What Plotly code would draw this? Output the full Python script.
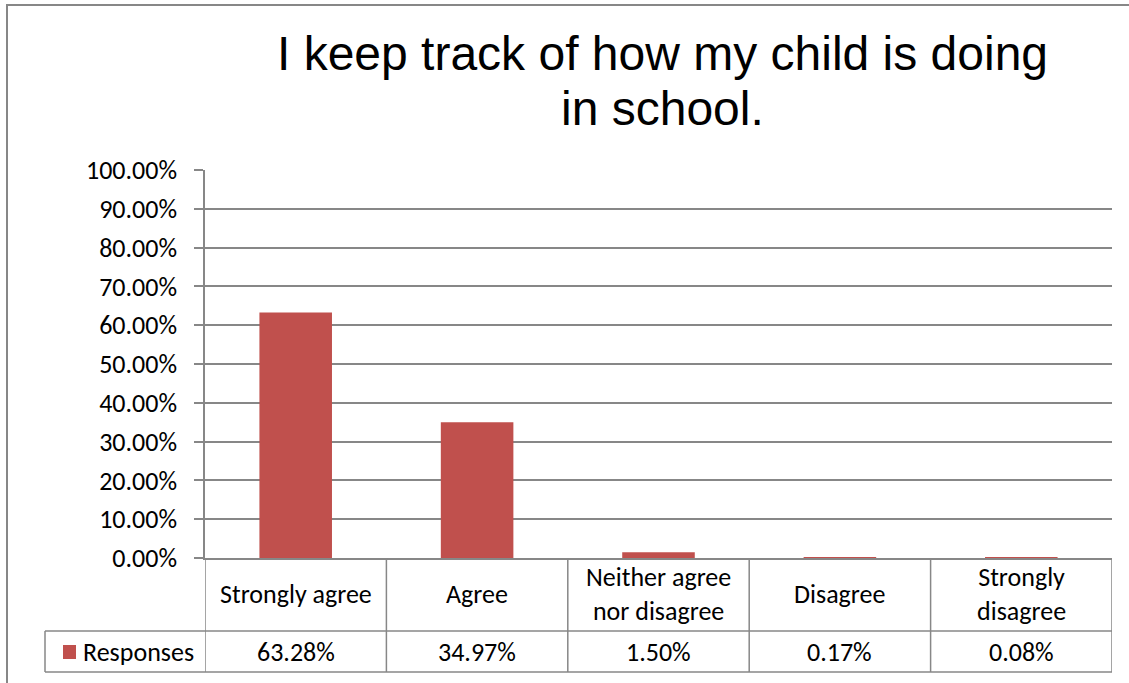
import plotly.graph_objects as go

# ---- data ----
categories = ["Strongly agree", "Agree", "Neither agree nor disagree", "Disagree", "Strongly disagree"]
category_labels = ["Strongly agree", "Agree", "Neither agree<br>nor disagree", "Disagree", "Strongly<br>disagree"]
responses = [63.28, 34.97, 1.50, 0.17, 0.08]
series_name = "Responses"
title_lines = ["I keep track of how my child is doing", "in school."]
y_ticks = [0, 10, 20, 30, 40, 50, 60, 70, 80, 90, 100]
y_tick_labels = [f"{t:.2f}%" for t in y_ticks]

# ---- layout helpers (pixel box of plot area) ----
W, H = 1129, 683
L, R, T, B = 205, 1112, 170, 558


def px(x):
    return (x - L) / (R - L)


def py(y):
    return (B - y) / (B - T)


GRAY = "#878787"
BAR = "#C0504D"
TXT_FONT = "Calibri, Carlito, Lato, sans-serif"
TXT_SIZE = 26

fig = go.Figure()
fig.add_trace(go.Bar(
    x=list(range(len(categories))), y=responses, name=series_name,
    marker=dict(color=BAR, line=dict(width=0)), width=0.4,
    hovertext=categories,
))

shapes = []
# outer chart border (cropped on right/bottom)
shapes.append(dict(type="rect", xref="paper", yref="paper",
                   x0=px(7), x1=px(1160), y0=py(720), y1=py(5),
                   line=dict(color=GRAY, width=2), layer="below"))
# data table: vertical column lines
for k in range(len(categories) + 1):
    shapes.append(dict(type="line", xref="x", yref="paper",
                       x0=k - 0.5, x1=k - 0.5, y0=py(558), y1=py(672),
                       line=dict(color=GRAY, width=1.5)))
# horizontal lines
for yy in (631, 672):
    shapes.append(dict(type="line", xref="paper", yref="paper",
                       x0=px(45), x1=px(1112), y0=py(yy), y1=py(yy),
                       line=dict(color=GRAY, width=1.5)))
shapes.append(dict(type="line", xref="paper", yref="paper",
                   x0=px(45), x1=px(45), y0=py(631), y1=py(672),
                   line=dict(color=GRAY, width=1.5)))
# legend key
shapes.append(dict(type="rect", xref="paper", yref="paper",
                   x0=px(63), x1=px(76), y0=py(659), y1=py(645),
                   fillcolor=BAR, line=dict(width=0)))

annotations = []
title_y = [54, 109]
for line, yy in zip(title_lines, title_y):
    annotations.append(dict(text=line, xref="paper", yref="paper",
                            x=px(662), y=py(yy), xanchor="center", yanchor="middle",
                            showarrow=False,
                            font=dict(family="Liberation Sans, Arial", size=48, color="#000000")))
for i, lab in enumerate(category_labels):
    annotations.append(dict(text=lab, xref="x", yref="paper", x=i, y=py(594),
                            xanchor="center", yanchor="middle", showarrow=False,
                            font=dict(family=TXT_FONT, size=TXT_SIZE, color="#000000")))
for i, v in enumerate(responses):
    annotations.append(dict(text=f"{v:.2f}%", xref="x", yref="paper", x=i, y=py(652),
                            xanchor="center", yanchor="middle", showarrow=False,
                            font=dict(family=TXT_FONT, size=TXT_SIZE, color="#000000")))
annotations.append(dict(text=series_name, xref="paper", yref="paper", x=px(81), y=py(652),
                        xanchor="left", yanchor="middle", showarrow=False,
                        font=dict(family=TXT_FONT, size=TXT_SIZE, color="#000000")))

fig.update_layout(
    width=W, height=H,
    margin=dict(l=L, r=W - R, t=T, b=H - B, pad=0),
    paper_bgcolor="white", plot_bgcolor="white",
    showlegend=False,
    shapes=shapes, annotations=annotations,
    font=dict(family=TXT_FONT, size=TXT_SIZE, color="#000000"),
    xaxis=dict(range=[-0.5, len(categories) - 0.5], showticklabels=False, ticks="",
               showgrid=False, zeroline=False, showline=True, linecolor=GRAY, linewidth=1.5,
               fixedrange=True),
    yaxis=dict(range=[0, 100], tickvals=y_ticks, ticktext=y_tick_labels,
               ticks="outside", ticklen=9, tickwidth=1.5, tickcolor=GRAY,
               ticklabelstandoff=12,
               showgrid=True, gridcolor=GRAY, gridwidth=1.5, zeroline=False,
               showline=True, linecolor=GRAY, linewidth=1.5,
               tickfont=dict(family=TXT_FONT, size=TXT_SIZE, color="#000000"),
               fixedrange=True),
    bargap=0.6,
)

fig.write_html("out.html", config={"displayModeBar": False},
               post_script="document.body.style.margin='0';")
